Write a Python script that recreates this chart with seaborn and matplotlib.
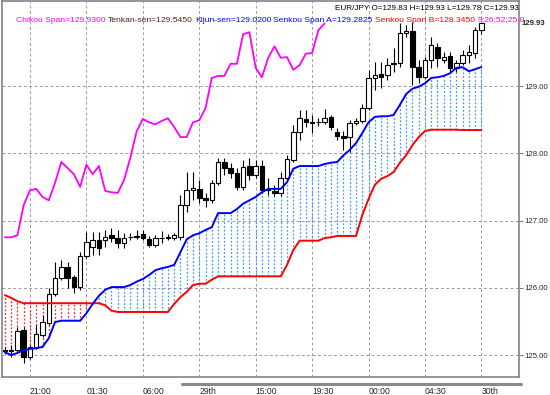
import numpy as np
import pandas as pd
import matplotlib
matplotlib.use('Agg')
import matplotlib.pyplot as plt
from matplotlib.lines import Line2D
import seaborn as sns

# EUR/JPY, 30 minute bars with Ichimoku cloud
open_ = [125.06, 125.07, 125.07, 125.37, 124.97, 125.12, 125.30, 125.48, 125.91, 126.14,
         126.31, 126.16, 126.01, 126.47, 126.61, 126.71, 126.71, 126.78, 126.74, 126.67,
         126.75, 126.75, 126.80, 126.72, 126.64, 126.74, 126.74, 126.74, 126.75, 127.23,
         127.45, 127.47, 127.33, 127.30, 127.56, 127.87, 127.78, 127.71, 127.50, 127.81,
         127.68, 127.81, 127.45, 127.44, 127.41, 127.63, 127.90, 128.32, 128.51, 128.46,
         128.46, 128.46, 128.54, 128.32, 128.26, 128.24, 128.45, 128.48, 128.67, 129.12,
         129.18, 129.16, 129.34, 129.34, 129.79, 129.82, 129.28, 129.13, 129.39, 129.58,
         129.39, 129.45, 129.27, 129.34, 129.46, 129.49, 129.83]
high = [125.12, 125.15, 125.42, 125.42, 125.15, 125.45, 125.59, 125.99, 126.38, 126.41,
        126.38, 126.19, 126.53, 126.83, 126.83, 126.83, 126.86, 126.89, 126.86, 126.81,
        126.81, 126.86, 126.86, 126.77, 126.78, 126.84, 126.80, 126.81, 127.38, 127.72,
        127.72, 127.60, 127.41, 127.60, 127.93, 127.93, 127.86, 127.78, 127.90, 127.93,
        127.90, 127.90, 127.63, 127.53, 127.72, 127.97, 128.42, 128.64, 128.64, 128.57,
        128.52, 128.66, 128.57, 128.38, 128.33, 128.49, 128.52, 128.73, 129.24, 129.36,
        129.36, 129.42, 129.57, 129.94, 129.91, 129.95, 129.39, 129.43, 129.73, 129.64,
        129.51, 129.51, 129.39, 129.54, 129.61, 129.88, 129.93]
low = [125.01, 124.97, 125.04, 124.88, 124.94, 125.09, 125.27, 125.45, 125.88, 126.12,
       125.99, 125.92, 125.97, 126.44, 126.49, 126.49, 126.61, 126.68, 126.59, 126.59,
       126.71, 126.72, 126.71, 126.61, 126.61, 126.67, 126.71, 126.71, 126.71, 127.13,
       127.30, 127.26, 127.20, 127.26, 127.53, 127.68, 127.63, 127.45, 127.45, 127.60,
       127.63, 127.41, 127.38, 127.36, 127.36, 127.60, 127.87, 128.20, 128.39, 128.30,
       128.41, 128.43, 128.35, 128.20, 128.05, 128.02, 128.42, 128.45, 128.64, 128.94,
       128.97, 129.09, 129.21, 129.28, 129.73, 129.01, 129.04, 129.10, 129.27, 129.28,
       129.34, 129.21, 129.21, 129.31, 129.34, 129.42, 129.78]
close = [125.07, 125.06, 125.36, 124.97, 125.12, 125.31, 125.49, 125.91, 126.14, 126.31,
         126.14, 126.01, 126.47, 126.68, 126.71, 126.59, 126.75, 126.74, 126.67, 126.74,
         126.76, 126.77, 126.74, 126.64, 126.74, 126.74, 126.75, 126.78, 127.23, 127.45,
         127.48, 127.33, 127.30, 127.56, 127.87, 127.78, 127.71, 127.50, 127.80, 127.68,
         127.81, 127.45, 127.47, 127.41, 127.63, 127.91, 128.32, 128.52, 128.46, 128.45,
         128.46, 128.52, 128.39, 128.26, 128.23, 128.45, 128.48, 128.67, 129.12, 129.16,
         129.13, 129.31, 129.33, 129.79, 129.82, 129.28, 129.13, 129.39, 129.61, 129.42,
         129.43, 129.27, 129.34, 129.46, 129.51, 129.83, 129.93]

span_a = [125.04, 125.00, 125.03, 125.07, 125.09, 125.10, 125.12, 125.25, 125.49, 125.51,
          125.51, 125.51, 125.51, 125.62, 125.76, 125.88, 125.97, 126.01, 126.01, 126.01,
          126.04, 126.09, 126.13, 126.19, 126.26, 126.29, 126.31, 126.34, 126.53, 126.72,
          126.78, 126.81, 126.86, 126.90, 127.11, 127.11, 127.11, 127.17, 127.25, 127.30,
          127.35, 127.42, 127.47, 127.47, 127.47, 127.57, 127.77, 127.81, 127.81, 127.81,
          127.81, 127.84, 127.86, 127.87, 127.97, 128.05, 128.15, 128.30, 128.46, 128.54,
          128.55, 128.55, 128.57, 128.72, 128.88, 128.96, 128.99, 129.04, 129.12, 129.13,
          129.15, 129.19, 129.27, 129.28, 129.22, 129.25, 129.2825]
span_b = [125.89, 125.85, 125.80, 125.77, 125.77, 125.77, 125.77, 125.77, 125.77, 125.77,
          125.77, 125.77, 125.77, 125.77, 125.77, 125.77, 125.74, 125.66, 125.64, 125.64,
          125.64, 125.64, 125.64, 125.64, 125.64, 125.64, 125.64, 125.76, 125.86, 125.94,
          126.04, 126.06, 126.06, 126.12, 126.17, 126.17, 126.17, 126.17, 126.17, 126.17,
          126.17, 126.17, 126.17, 126.17, 126.17, 126.34, 126.56, 126.70, 126.70, 126.70,
          126.70, 126.74, 126.75, 126.77, 126.77, 126.77, 126.77, 127.08, 127.32, 127.53,
          127.62, 127.66, 127.72, 127.86, 127.97, 128.12, 128.24, 128.33, 128.35, 128.35,
          128.35, 128.35, 128.35, 128.345, 128.345, 128.345, 128.345]
chikou = [126.75, 126.75, 126.78, 127.23, 127.45, 127.47, 127.35, 127.30, 127.56, 127.87,
          127.78, 127.69, 127.50, 127.83, 127.69, 127.81, 127.44, 127.42, 127.41, 127.60,
          127.93, 128.32, 128.51, 128.46, 128.43, 128.48, 128.52, 128.39, 128.24, 128.24,
          128.46, 128.49, 128.67, 129.12, 129.15, 129.15, 129.33, 129.33, 129.77, 129.80,
          129.27, 129.13, 129.42, 129.59, 129.42, 129.43, 129.24, 129.31, 129.48, 129.49,
          129.83, 129.93]
tenkan_last = 129.5450
kijun_last = 129.0200
params = '9;26;52;25.0'

time_labels = ['21:00', '01:30', '06:00', '29th', '15:00', '19:30', '00:00', '04:30', '30th']
label_bars = [4, 13, 22, 31, 40, 49, 58, 67, 76]
price_ticks = [125, 126, 127, 128, 129]

df = pd.DataFrame({'bar': np.arange(len(close)), 'open': open_, 'high': high,
                   'low': low, 'close': close, 'span_a': span_a, 'span_b': span_b})
ch = pd.DataFrame({'bar': np.arange(len(chikou)), 'chikou': chikou})

sns.set_style('white')
plt.rcParams['font.family'] = ['Liberation Sans', 'DejaVu Sans']

fig = plt.figure(figsize=(5.5, 3.95), dpi=100)
ax = fig.add_axes([2 / 550, 18 / 395, 517 / 550, 376 / 395])

grid_c = '#a596a4'
for b in label_bars:
    ax.axvline(b, color=grid_c, lw=0.7, ls=(0, (3, 2.5)), zorder=0)
for p in price_ticks:
    ax.axhline(p, color=grid_c, lw=0.7, ls=(0, (3, 2.5)), zorder=0)

# cloud hatching, one dotted stroke per bar
up = df.span_a >= df.span_b
ax.vlines(df.bar[up], df.span_b[up], df.span_a[up], colors='#3c9cff',
          linestyles=(0, (1.5, 1.5)), lw=0.9, zorder=1)
ax.vlines(df.bar[~up], df.span_a[~up], df.span_b[~up], colors='#ff2a2a',
          linestyles=(0, (1.5, 1.5)), lw=0.9, zorder=1)

# candles
ax.vlines(df.bar, df.low, df.high, color='black', lw=0.8, zorder=2)
bull = df.close >= df.open
ax.bar(df.bar[bull], (df.close - df.open)[bull], bottom=df.open[bull], width=0.72,
       color='white', edgecolor='black', lw=0.8, zorder=3)
ax.bar(df.bar[~bull], (df.close - df.open)[~bull], bottom=df.open[~bull], width=0.72,
       color='black', edgecolor='black', lw=0.8, zorder=3)

# ichimoku lines
sns.lineplot(data=df, x='bar', y='span_b', color='#ff0000', lw=1.4, ax=ax, zorder=4)
sns.lineplot(data=df, x='bar', y='span_a', color='#0000ff', lw=1.4, ax=ax, zorder=4)
sns.lineplot(data=ch, x='bar', y='chikou', color='#ff00ff', lw=1.3, ax=ax, zorder=4)

ax.set_xlim(-0.46, 82.0)
ax.set_ylim(124.673, 130.264)
ax.set_xlabel('')
ax.set_ylabel('')

ax.yaxis.tick_right()
ax.set_yticks(price_ticks)
ax.set_yticklabels([f'{p:.2f}' for p in price_ticks])
ax.tick_params(axis='y', length=3, width=0.8, color='#808080', pad=1, labelsize=5.6)
ax.set_xticks(label_bars)
ax.set_xticklabels(time_labels)
ax.tick_params(axis='x', length=0, pad=7, labelsize=6.2)
for t in ax.get_xticklabels():
    t.set_ha('left')

for s in ax.spines.values():
    s.set_color('#858090')
    s.set_linewidth(1.2)

# current price on the scale
ax.text(1.0058, close[-1], f'{close[-1]:.2f}', transform=ax.get_yaxis_transform(),
        fontsize=5.6, fontweight='bold', va='center', ha='left')

# scroll bar under the time scale
fig.add_artist(Line2D([182 / 550, 521 / 550], [11 / 395, 11 / 395], color='#8a8a8a', lw=2.2))

# data window texts
fig.text(519 / 550, 1 - 8 / 395,
         f'EUR/JPY O={open_[-1]:.2f} H={high[-1]:.2f} L={low[-1]:.2f} C={close[-1]:.2f}',
         ha='right', va='center', fontsize=5.9, color='black')
pieces = [(f'Chikou Span={chikou[-1]:.4f}', '#ff00ff'),
          (f'Tenkan-sen={tenkan_last:.4f}', '#5a1a1a'),
          (f'Kijun-sen={kijun_last:.4f}', '#0000ff'),
          (f'Senkou Span A={span_a[-1]:.4f}', '#0000ff'),
          (f'Senkou Span B={span_b[-1]:.4f}', '#ff0000'),
          (params, '#ff00ff')]
prev = fig.text(16 / 550, 1 - 20 / 395, pieces[0][0], ha='left', va='center',
                fontsize=6.1, color=pieces[0][1])
for txt, c in pieces[1:]:
    prev = ax.annotate(txt, xy=(1, 0.5), xycoords=prev, xytext=(1.6, 0),
                       textcoords='offset points', ha='left', va='center',
                       fontsize=6.1, color=c, annotation_clip=False)

fig.savefig('out.png', dpi=100)
